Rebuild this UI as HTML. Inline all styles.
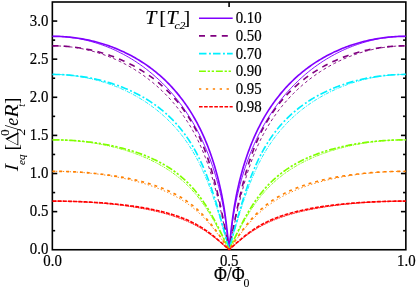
<!DOCTYPE html>
<html><head><meta charset="utf-8"><title>Ieq vs flux</title>
<style>
html,body{margin:0;padding:0;background:#fff;}
body{width:416px;height:287px;overflow:hidden;font-family:"Liberation Serif",serif;}
svg{display:block;will-change:transform}
text{font-family:"Liberation Serif",serif;fill:#000;stroke:#000}
svg{stroke-width:0.2px}
.it{font-style:italic}
.sm{stroke-width:0.08px}
</style></head><body>
<svg width="416" height="287" viewBox="0 0 416 287">
<rect x="0" y="0" width="416" height="287" fill="#fff"/>
<defs><clipPath id="pc"><rect x="52.35" y="2.0" width="353.5" height="248.35"/></clipPath></defs>

<g stroke="#000" stroke-width="1.6" fill="none" stroke-linecap="butt">
<rect x="52.35" y="2.0" width="353.5" height="247.75"/>
<line x1="52.35" y1="230.69" x2="55.15" y2="230.69"/>
<line x1="405.85" y1="230.69" x2="403.05" y2="230.69"/>
<line x1="52.35" y1="211.63" x2="57.25" y2="211.63"/>
<line x1="405.85" y1="211.63" x2="400.95000000000005" y2="211.63"/>
<line x1="52.35" y1="192.58" x2="55.15" y2="192.58"/>
<line x1="405.85" y1="192.58" x2="403.05" y2="192.58"/>
<line x1="52.35" y1="173.52" x2="57.25" y2="173.52"/>
<line x1="405.85" y1="173.52" x2="400.95000000000005" y2="173.52"/>
<line x1="52.35" y1="154.46" x2="55.15" y2="154.46"/>
<line x1="405.85" y1="154.46" x2="403.05" y2="154.46"/>
<line x1="52.35" y1="135.40" x2="57.25" y2="135.40"/>
<line x1="405.85" y1="135.40" x2="400.95000000000005" y2="135.40"/>
<line x1="52.35" y1="116.35" x2="55.15" y2="116.35"/>
<line x1="405.85" y1="116.35" x2="403.05" y2="116.35"/>
<line x1="52.35" y1="97.29" x2="57.25" y2="97.29"/>
<line x1="405.85" y1="97.29" x2="400.95000000000005" y2="97.29"/>
<line x1="52.35" y1="78.23" x2="55.15" y2="78.23"/>
<line x1="405.85" y1="78.23" x2="403.05" y2="78.23"/>
<line x1="52.35" y1="59.17" x2="57.25" y2="59.17"/>
<line x1="405.85" y1="59.17" x2="400.95000000000005" y2="59.17"/>
<line x1="52.35" y1="40.12" x2="55.15" y2="40.12"/>
<line x1="405.85" y1="40.12" x2="403.05" y2="40.12"/>
<line x1="52.35" y1="21.06" x2="57.25" y2="21.06"/>
<line x1="405.85" y1="21.06" x2="400.95000000000005" y2="21.06"/>
<line x1="229.10" y1="2.0" x2="229.10" y2="6.9"/>
<line x1="229.10" y1="249.75" x2="229.10" y2="244.85"/>
</g>
<g fill="none" stroke-linejoin="round" clip-path="url(#pc)">
<path d="M52.35 36.30 L54.10 36.31 L55.84 36.35 L57.59 36.40 L59.33 36.47 L61.08 36.56 L62.82 36.68 L64.56 36.81 L66.30 36.97 L68.04 37.15 L69.78 37.34 L71.52 37.56 L73.25 37.80 L74.99 38.06 L76.72 38.34 L78.45 38.64 L80.17 38.96 L81.90 39.30 L83.62 39.67 L85.33 40.05 L87.05 40.45 L88.76 40.88 L90.46 41.32 L92.17 41.79 L93.87 42.27 L95.56 42.78 L97.25 43.30 L98.94 43.85 L100.62 44.42 L102.30 45.00 L103.97 45.61 L105.64 46.24 L107.30 46.88 L108.96 47.55 L110.61 48.24 L112.25 48.94 L113.89 49.67 L115.53 50.41 L117.16 51.18 L118.78 51.97 L120.39 52.77 L122.00 53.60 L123.60 54.44 L125.20 55.30 L126.78 56.19 L128.36 57.09 L129.94 58.01 L131.50 58.95 L133.06 59.91 L134.61 60.89 L136.15 61.89 L137.68 62.91 L139.21 63.95 L140.72 65.01 L142.23 66.08 L143.73 67.17 L145.22 68.29 L146.70 69.42 L148.18 70.57 L149.64 71.74 L151.09 72.93 L152.53 74.14 L153.97 75.36 L155.39 76.61 L156.81 77.87 L158.21 79.15 L159.60 80.45 L160.98 81.77 L162.36 83.11 L163.72 84.47 L165.07 85.84 L166.41 87.24 L167.74 88.65 L169.05 90.08 L170.36 91.53 L171.65 92.99 L172.94 94.48 L174.21 95.98 L175.47 97.50 L176.71 99.04 L177.95 100.60 L179.17 102.18 L180.38 103.77 L181.58 105.39 L182.76 107.02 L183.93 108.67 L185.09 110.34 L186.24 112.03 L187.37 113.73 L188.49 115.45 L189.60 117.20 L190.69 118.96 L191.77 120.73 L192.84 122.53 L193.89 124.34 L194.93 126.17 L195.96 128.02 L196.97 129.89 L197.96 131.78 L198.95 133.68 L199.92 135.60 L200.87 137.54 L201.81 139.50 L202.73 141.47 L203.64 143.46 L204.54 145.47 L205.42 147.49 L206.29 149.54 L207.14 151.59 L207.97 153.67 L208.79 155.76 L209.60 157.86 L210.39 159.98 L211.16 162.12 L211.92 164.27 L212.66 166.43 L213.39 168.61 L214.10 170.80 L214.80 173.00 L215.48 175.22 L216.14 177.44 L216.79 179.68 L217.42 181.93 L218.04 184.19 L218.64 186.45 L219.22 188.73 L219.79 191.02 L220.34 193.32 L220.88 195.62 L221.39 197.94 L221.90 200.26 L222.38 202.60 L222.85 204.95 L223.30 207.30 L223.74 209.67 L224.16 212.04 L224.56 214.42 L224.94 216.79 L225.31 219.17 L225.66 221.53 L226.00 223.87 L226.31 226.18 L226.61 228.45 L226.90 230.66 L227.16 232.80 L227.41 234.86 L227.64 236.82 L227.86 238.66 L228.06 240.39 L228.24 241.98 L228.40 243.44 L228.55 244.76 L228.68 245.92 L228.79 246.93 L228.88 247.79 L228.96 248.50 L229.02 249.05 L229.07 249.44 L229.09 249.67 L229.10 249.75 L229.11 249.67 L229.13 249.44 L229.18 249.05 L229.24 248.50 L229.32 247.79 L229.41 246.93 L229.52 245.92 L229.65 244.76 L229.80 243.44 L229.96 241.98 L230.14 240.39 L230.34 238.66 L230.56 236.82 L230.79 234.86 L231.04 232.80 L231.30 230.66 L231.59 228.45 L231.89 226.18 L232.20 223.87 L232.54 221.53 L232.89 219.17 L233.26 216.79 L233.64 214.42 L234.04 212.04 L234.46 209.67 L234.90 207.30 L235.35 204.95 L235.82 202.60 L236.30 200.26 L236.81 197.94 L237.32 195.62 L237.86 193.32 L238.41 191.02 L238.98 188.73 L239.56 186.45 L240.16 184.19 L240.78 181.93 L241.41 179.68 L242.06 177.44 L242.72 175.22 L243.40 173.00 L244.10 170.80 L244.81 168.61 L245.54 166.43 L246.28 164.27 L247.04 162.12 L247.81 159.98 L248.60 157.86 L249.41 155.76 L250.23 153.67 L251.06 151.59 L251.91 149.54 L252.78 147.49 L253.66 145.47 L254.56 143.46 L255.47 141.47 L256.39 139.50 L257.33 137.54 L258.28 135.60 L259.25 133.68 L260.24 131.78 L261.23 129.89 L262.24 128.02 L263.27 126.17 L264.31 124.34 L265.36 122.53 L266.43 120.73 L267.51 118.96 L268.60 117.20 L269.71 115.45 L270.83 113.73 L271.96 112.03 L273.11 110.34 L274.27 108.67 L275.44 107.02 L276.62 105.39 L277.82 103.77 L279.03 102.18 L280.25 100.60 L281.49 99.04 L282.73 97.50 L283.99 95.98 L285.26 94.48 L286.55 92.99 L287.84 91.53 L289.15 90.08 L290.46 88.65 L291.79 87.24 L293.13 85.84 L294.48 84.47 L295.84 83.11 L297.22 81.77 L298.60 80.45 L299.99 79.15 L301.39 77.87 L302.81 76.61 L304.23 75.36 L305.67 74.14 L307.11 72.93 L308.56 71.74 L310.02 70.57 L311.50 69.42 L312.98 68.29 L314.47 67.17 L315.97 66.08 L317.48 65.01 L318.99 63.95 L320.52 62.91 L322.05 61.89 L323.59 60.89 L325.14 59.91 L326.70 58.95 L328.26 58.01 L329.84 57.09 L331.42 56.19 L333.00 55.30 L334.60 54.44 L336.20 53.60 L337.81 52.77 L339.42 51.97 L341.04 51.18 L342.67 50.41 L344.31 49.67 L345.95 48.94 L347.59 48.24 L349.24 47.55 L350.90 46.88 L352.56 46.24 L354.23 45.61 L355.90 45.00 L357.58 44.42 L359.26 43.85 L360.95 43.30 L362.64 42.78 L364.33 42.27 L366.03 41.79 L367.74 41.32 L369.44 40.88 L371.15 40.45 L372.87 40.05 L374.58 39.67 L376.30 39.30 L378.03 38.96 L379.75 38.64 L381.48 38.34 L383.21 38.06 L384.95 37.80 L386.68 37.56 L388.42 37.34 L390.16 37.15 L391.90 36.97 L393.64 36.81 L395.38 36.68 L397.12 36.56 L398.87 36.47 L400.61 36.40 L402.36 36.35 L404.10 36.31 L405.85 36.30" stroke="#8000ff" stroke-width="0.95"/>
<path d="M52.35 36.30 L54.10 36.31 L55.84 36.34 L57.59 36.38 L59.33 36.44 L61.08 36.52 L62.82 36.62 L64.56 36.73 L66.30 36.86 L68.04 37.01 L69.78 37.18 L71.52 37.36 L73.25 37.57 L74.99 37.78 L76.72 38.02 L78.45 38.28 L80.17 38.55 L81.90 38.84 L83.62 39.15 L85.33 39.47 L87.05 39.81 L88.76 40.17 L90.46 40.55 L92.17 40.95 L93.87 41.36 L95.56 41.79 L97.25 42.24 L98.94 42.71 L100.62 43.19 L102.30 43.70 L103.97 44.22 L105.64 44.75 L107.30 45.31 L108.96 45.89 L110.61 46.48 L112.25 47.09 L113.89 47.72 L115.53 48.36 L117.16 49.03 L118.78 49.71 L120.39 50.41 L122.00 51.13 L123.60 51.87 L125.20 52.63 L126.78 53.40 L128.36 54.20 L129.94 55.01 L131.50 55.84 L133.06 56.69 L134.61 57.56 L136.15 58.44 L137.68 59.35 L139.21 60.27 L140.72 61.22 L142.23 62.18 L143.73 63.16 L145.22 64.16 L146.70 65.18 L148.18 66.22 L149.64 67.28 L151.09 68.36 L152.53 69.45 L153.97 70.57 L155.39 71.71 L156.81 72.86 L158.21 74.04 L159.60 75.24 L160.98 76.45 L162.36 77.69 L163.72 78.95 L165.07 80.22 L166.41 81.52 L167.74 82.84 L169.05 84.18 L170.36 85.54 L171.65 86.92 L172.94 88.32 L174.21 89.74 L175.47 91.18 L176.71 92.64 L177.95 94.13 L179.17 95.64 L180.38 97.16 L181.58 98.71 L182.76 100.29 L183.93 101.88 L185.09 103.49 L186.24 105.13 L187.37 106.79 L188.49 108.47 L189.60 110.17 L190.69 111.90 L191.77 113.65 L192.84 115.42 L193.89 117.21 L194.93 119.02 L195.96 120.86 L196.97 122.72 L197.96 124.60 L198.95 126.51 L199.92 128.44 L200.87 130.39 L201.81 132.36 L202.73 134.35 L203.64 136.37 L204.54 138.41 L205.42 140.47 L206.29 142.56 L207.14 144.66 L207.97 146.79 L208.79 148.94 L209.60 151.11 L210.39 153.30 L211.16 155.51 L211.92 157.74 L212.66 159.98 L213.39 162.25 L214.10 164.54 L214.80 166.85 L215.48 169.17 L216.14 171.51 L216.79 173.86 L217.42 176.24 L218.04 178.62 L218.64 181.03 L219.22 183.44 L219.79 185.88 L220.34 188.33 L220.88 190.79 L221.39 193.27 L221.90 195.76 L222.38 198.27 L222.85 200.79 L223.30 203.34 L223.74 205.89 L224.16 208.46 L224.56 211.04 L224.94 213.62 L225.31 216.21 L225.66 218.78 L226.00 221.34 L226.31 223.87 L226.61 226.35 L226.90 228.77 L227.16 231.12 L227.41 233.37 L227.64 235.52 L227.86 237.55 L228.06 239.45 L228.24 241.20 L228.40 242.81 L228.55 244.25 L228.68 245.54 L228.79 246.65 L228.88 247.60 L228.96 248.37 L229.02 248.97 L229.07 249.41 L229.09 249.66 L229.10 249.75 L229.11 249.66 L229.13 249.41 L229.18 248.97 L229.24 248.37 L229.32 247.60 L229.41 246.65 L229.52 245.54 L229.65 244.25 L229.80 242.81 L229.96 241.20 L230.14 239.45 L230.34 237.55 L230.56 235.52 L230.79 233.37 L231.04 231.12 L231.30 228.77 L231.59 226.35 L231.89 223.87 L232.20 221.34 L232.54 218.78 L232.89 216.21 L233.26 213.62 L233.64 211.04 L234.04 208.46 L234.46 205.89 L234.90 203.34 L235.35 200.79 L235.82 198.27 L236.30 195.76 L236.81 193.27 L237.32 190.79 L237.86 188.33 L238.41 185.88 L238.98 183.44 L239.56 181.03 L240.16 178.62 L240.78 176.24 L241.41 173.86 L242.06 171.51 L242.72 169.17 L243.40 166.85 L244.10 164.54 L244.81 162.25 L245.54 159.98 L246.28 157.74 L247.04 155.51 L247.81 153.30 L248.60 151.11 L249.41 148.94 L250.23 146.79 L251.06 144.66 L251.91 142.56 L252.78 140.47 L253.66 138.41 L254.56 136.37 L255.47 134.35 L256.39 132.36 L257.33 130.39 L258.28 128.44 L259.25 126.51 L260.24 124.60 L261.23 122.72 L262.24 120.86 L263.27 119.02 L264.31 117.21 L265.36 115.42 L266.43 113.65 L267.51 111.90 L268.60 110.17 L269.71 108.47 L270.83 106.79 L271.96 105.13 L273.11 103.49 L274.27 101.88 L275.44 100.29 L276.62 98.71 L277.82 97.16 L279.03 95.64 L280.25 94.13 L281.49 92.64 L282.73 91.18 L283.99 89.74 L285.26 88.32 L286.55 86.92 L287.84 85.54 L289.15 84.18 L290.46 82.84 L291.79 81.52 L293.13 80.22 L294.48 78.95 L295.84 77.69 L297.22 76.45 L298.60 75.24 L299.99 74.04 L301.39 72.86 L302.81 71.71 L304.23 70.57 L305.67 69.45 L307.11 68.36 L308.56 67.28 L310.02 66.22 L311.50 65.18 L312.98 64.16 L314.47 63.16 L315.97 62.18 L317.48 61.22 L318.99 60.27 L320.52 59.35 L322.05 58.44 L323.59 57.56 L325.14 56.69 L326.70 55.84 L328.26 55.01 L329.84 54.20 L331.42 53.40 L333.00 52.63 L334.60 51.87 L336.20 51.13 L337.81 50.41 L339.42 49.71 L341.04 49.03 L342.67 48.36 L344.31 47.72 L345.95 47.09 L347.59 46.48 L349.24 45.89 L350.90 45.31 L352.56 44.75 L354.23 44.22 L355.90 43.70 L357.58 43.19 L359.26 42.71 L360.95 42.24 L362.64 41.79 L364.33 41.36 L366.03 40.95 L367.74 40.55 L369.44 40.17 L371.15 39.81 L372.87 39.47 L374.58 39.15 L376.30 38.84 L378.03 38.55 L379.75 38.28 L381.48 38.02 L383.21 37.78 L384.95 37.57 L386.68 37.36 L388.42 37.18 L390.16 37.01 L391.90 36.86 L393.64 36.73 L395.38 36.62 L397.12 36.52 L398.87 36.44 L400.61 36.38 L402.36 36.34 L404.10 36.31 L405.85 36.30" stroke="#8000ff" stroke-width="1.65"/>
<path d="M52.35 45.83 L54.10 45.84 L55.84 45.87 L57.59 45.92 L59.33 45.99 L61.08 46.08 L62.82 46.19 L64.56 46.32 L66.30 46.47 L68.04 46.64 L69.78 46.83 L71.52 47.04 L73.25 47.27 L74.99 47.52 L76.72 47.79 L78.45 48.08 L80.17 48.39 L81.90 48.72 L83.62 49.07 L85.33 49.44 L87.05 49.83 L88.76 50.24 L90.46 50.67 L92.17 51.11 L93.87 51.58 L95.56 52.07 L97.25 52.57 L98.94 53.10 L100.62 53.65 L102.30 54.21 L103.97 54.80 L105.64 55.40 L107.30 56.02 L108.96 56.67 L110.61 57.33 L112.25 58.01 L113.89 58.71 L115.53 59.43 L117.16 60.17 L118.78 60.93 L120.39 61.70 L122.00 62.50 L123.60 63.31 L125.20 64.15 L126.78 65.00 L128.36 65.87 L129.94 66.76 L131.50 67.67 L133.06 68.60 L134.61 69.55 L136.15 70.52 L137.68 71.50 L139.21 72.50 L140.72 73.53 L142.23 74.57 L143.73 75.63 L145.22 76.71 L146.70 77.81 L148.18 78.92 L149.64 80.06 L151.09 81.21 L152.53 82.38 L153.97 83.58 L155.39 84.79 L156.81 86.02 L158.21 87.27 L159.60 88.53 L160.98 89.82 L162.36 91.13 L163.72 92.45 L165.07 93.80 L166.41 95.17 L167.74 96.55 L169.05 97.96 L170.36 99.38 L171.65 100.83 L172.94 102.29 L174.21 103.78 L175.47 105.29 L176.71 106.82 L177.95 108.37 L179.17 109.94 L180.38 111.54 L181.58 113.15 L182.76 114.79 L183.93 116.46 L185.09 118.15 L186.24 119.86 L187.37 121.60 L188.49 123.36 L189.60 125.15 L190.69 126.96 L191.77 128.80 L192.84 130.67 L193.89 132.57 L194.93 134.49 L195.96 136.45 L196.97 138.43 L197.96 140.45 L198.95 142.49 L199.92 144.56 L200.87 146.67 L201.81 148.80 L202.73 150.97 L203.64 153.17 L204.54 155.39 L205.42 157.65 L206.29 159.94 L207.14 162.25 L207.97 164.59 L208.79 166.96 L209.60 169.35 L210.39 171.77 L211.16 174.20 L211.92 176.66 L212.66 179.13 L213.39 181.61 L214.10 184.10 L214.80 186.59 L215.48 189.09 L216.14 191.58 L216.79 194.07 L217.42 196.55 L218.04 199.01 L218.64 201.46 L219.22 203.88 L219.79 206.27 L220.34 208.63 L220.88 210.96 L221.39 213.24 L221.90 215.48 L222.38 217.67 L222.85 219.81 L223.30 221.89 L223.74 223.91 L224.16 225.86 L224.56 227.76 L224.94 229.58 L225.31 231.34 L225.66 233.02 L226.00 234.62 L226.31 236.16 L226.61 237.61 L226.90 238.98 L227.16 240.28 L227.41 241.49 L227.64 242.63 L227.86 243.68 L228.06 244.64 L228.24 245.53 L228.40 246.33 L228.55 247.05 L228.68 247.68 L228.79 248.23 L228.88 248.69 L228.96 249.07 L229.02 249.37 L229.07 249.58 L229.09 249.71 L229.10 249.75 L229.11 249.71 L229.13 249.58 L229.18 249.37 L229.24 249.07 L229.32 248.69 L229.41 248.23 L229.52 247.68 L229.65 247.05 L229.80 246.33 L229.96 245.53 L230.14 244.64 L230.34 243.68 L230.56 242.63 L230.79 241.49 L231.04 240.28 L231.30 238.98 L231.59 237.61 L231.89 236.16 L232.20 234.62 L232.54 233.02 L232.89 231.34 L233.26 229.58 L233.64 227.76 L234.04 225.86 L234.46 223.91 L234.90 221.89 L235.35 219.81 L235.82 217.67 L236.30 215.48 L236.81 213.24 L237.32 210.96 L237.86 208.63 L238.41 206.27 L238.98 203.88 L239.56 201.46 L240.16 199.01 L240.78 196.55 L241.41 194.07 L242.06 191.58 L242.72 189.09 L243.40 186.59 L244.10 184.10 L244.81 181.61 L245.54 179.13 L246.28 176.66 L247.04 174.20 L247.81 171.77 L248.60 169.35 L249.41 166.96 L250.23 164.59 L251.06 162.25 L251.91 159.94 L252.78 157.65 L253.66 155.39 L254.56 153.17 L255.47 150.97 L256.39 148.80 L257.33 146.67 L258.28 144.56 L259.25 142.49 L260.24 140.45 L261.23 138.43 L262.24 136.45 L263.27 134.49 L264.31 132.57 L265.36 130.67 L266.43 128.80 L267.51 126.96 L268.60 125.15 L269.71 123.36 L270.83 121.60 L271.96 119.86 L273.11 118.15 L274.27 116.46 L275.44 114.79 L276.62 113.15 L277.82 111.54 L279.03 109.94 L280.25 108.37 L281.49 106.82 L282.73 105.29 L283.99 103.78 L285.26 102.29 L286.55 100.83 L287.84 99.38 L289.15 97.96 L290.46 96.55 L291.79 95.17 L293.13 93.80 L294.48 92.45 L295.84 91.13 L297.22 89.82 L298.60 88.53 L299.99 87.27 L301.39 86.02 L302.81 84.79 L304.23 83.58 L305.67 82.38 L307.11 81.21 L308.56 80.06 L310.02 78.92 L311.50 77.81 L312.98 76.71 L314.47 75.63 L315.97 74.57 L317.48 73.53 L318.99 72.50 L320.52 71.50 L322.05 70.52 L323.59 69.55 L325.14 68.60 L326.70 67.67 L328.26 66.76 L329.84 65.87 L331.42 65.00 L333.00 64.15 L334.60 63.31 L336.20 62.50 L337.81 61.70 L339.42 60.93 L341.04 60.17 L342.67 59.43 L344.31 58.71 L345.95 58.01 L347.59 57.33 L349.24 56.67 L350.90 56.02 L352.56 55.40 L354.23 54.80 L355.90 54.21 L357.58 53.65 L359.26 53.10 L360.95 52.57 L362.64 52.07 L364.33 51.58 L366.03 51.11 L367.74 50.67 L369.44 50.24 L371.15 49.83 L372.87 49.44 L374.58 49.07 L376.30 48.72 L378.03 48.39 L379.75 48.08 L381.48 47.79 L383.21 47.52 L384.95 47.27 L386.68 47.04 L388.42 46.83 L390.16 46.64 L391.90 46.47 L393.64 46.32 L395.38 46.19 L397.12 46.08 L398.87 45.99 L400.61 45.92 L402.36 45.87 L404.10 45.84 L405.85 45.83" stroke="#800080" stroke-width="0.95" stroke-dasharray="3.00 2.70"/>
<path d="M52.35 45.83 L54.10 45.84 L55.84 45.87 L57.59 45.91 L59.33 45.97 L61.08 46.04 L62.82 46.14 L64.56 46.25 L66.30 46.37 L68.04 46.52 L69.78 46.68 L71.52 46.86 L73.25 47.05 L74.99 47.26 L76.72 47.49 L78.45 47.74 L80.17 48.00 L81.90 48.28 L83.62 48.58 L85.33 48.89 L87.05 49.22 L88.76 49.57 L90.46 49.93 L92.17 50.32 L93.87 50.71 L95.56 51.13 L97.25 51.57 L98.94 52.02 L100.62 52.48 L102.30 52.97 L103.97 53.47 L105.64 53.99 L107.30 54.53 L108.96 55.09 L110.61 55.66 L112.25 56.25 L113.89 56.86 L115.53 57.48 L117.16 58.13 L118.78 58.79 L120.39 59.47 L122.00 60.16 L123.60 60.88 L125.20 61.61 L126.78 62.36 L128.36 63.13 L129.94 63.92 L131.50 64.72 L133.06 65.55 L134.61 66.39 L136.15 67.25 L137.68 68.13 L139.21 69.02 L140.72 69.94 L142.23 70.88 L143.73 71.83 L145.22 72.80 L146.70 73.79 L148.18 74.81 L149.64 75.84 L151.09 76.89 L152.53 77.96 L153.97 79.05 L155.39 80.16 L156.81 81.29 L158.21 82.44 L159.60 83.61 L160.98 84.80 L162.36 86.02 L163.72 87.25 L165.07 88.51 L166.41 89.79 L167.74 91.09 L169.05 92.41 L170.36 93.76 L171.65 95.12 L172.94 96.51 L174.21 97.93 L175.47 99.37 L176.71 100.83 L177.95 102.32 L179.17 103.84 L180.38 105.38 L181.58 106.94 L182.76 108.54 L183.93 110.16 L185.09 111.81 L186.24 113.48 L187.37 115.19 L188.49 116.93 L189.60 118.70 L190.69 120.49 L191.77 122.33 L192.84 124.19 L193.89 126.09 L194.93 128.02 L195.96 129.99 L196.97 131.99 L197.96 134.03 L198.95 136.10 L199.92 138.21 L200.87 140.36 L201.81 142.55 L202.73 144.77 L203.64 147.03 L204.54 149.33 L205.42 151.66 L206.29 154.04 L207.14 156.44 L207.97 158.88 L208.79 161.35 L209.60 163.86 L210.39 166.39 L211.16 168.95 L211.92 171.53 L212.66 174.13 L213.39 176.75 L214.10 179.39 L214.80 182.03 L215.48 184.68 L216.14 187.33 L216.79 189.98 L217.42 192.62 L218.04 195.25 L218.64 197.86 L219.22 200.44 L219.79 203.00 L220.34 205.53 L220.88 208.02 L221.39 210.47 L221.90 212.87 L222.38 215.22 L222.85 217.51 L223.30 219.75 L223.74 221.92 L224.16 224.03 L224.56 226.06 L224.94 228.03 L225.31 229.91 L225.66 231.72 L226.00 233.45 L226.31 235.10 L226.61 236.67 L226.90 238.15 L227.16 239.55 L227.41 240.85 L227.64 242.07 L227.86 243.21 L228.06 244.25 L228.24 245.20 L228.40 246.06 L228.55 246.84 L228.68 247.52 L228.79 248.11 L228.88 248.61 L228.96 249.02 L229.02 249.34 L229.07 249.57 L229.09 249.70 L229.10 249.75 L229.11 249.70 L229.13 249.57 L229.18 249.34 L229.24 249.02 L229.32 248.61 L229.41 248.11 L229.52 247.52 L229.65 246.84 L229.80 246.06 L229.96 245.20 L230.14 244.25 L230.34 243.21 L230.56 242.07 L230.79 240.85 L231.04 239.55 L231.30 238.15 L231.59 236.67 L231.89 235.10 L232.20 233.45 L232.54 231.72 L232.89 229.91 L233.26 228.03 L233.64 226.06 L234.04 224.03 L234.46 221.92 L234.90 219.75 L235.35 217.51 L235.82 215.22 L236.30 212.87 L236.81 210.47 L237.32 208.02 L237.86 205.53 L238.41 203.00 L238.98 200.44 L239.56 197.86 L240.16 195.25 L240.78 192.62 L241.41 189.98 L242.06 187.33 L242.72 184.68 L243.40 182.03 L244.10 179.39 L244.81 176.75 L245.54 174.13 L246.28 171.53 L247.04 168.95 L247.81 166.39 L248.60 163.86 L249.41 161.35 L250.23 158.88 L251.06 156.44 L251.91 154.04 L252.78 151.66 L253.66 149.33 L254.56 147.03 L255.47 144.77 L256.39 142.55 L257.33 140.36 L258.28 138.21 L259.25 136.10 L260.24 134.03 L261.23 131.99 L262.24 129.99 L263.27 128.02 L264.31 126.09 L265.36 124.19 L266.43 122.33 L267.51 120.49 L268.60 118.70 L269.71 116.93 L270.83 115.19 L271.96 113.48 L273.11 111.81 L274.27 110.16 L275.44 108.54 L276.62 106.94 L277.82 105.38 L279.03 103.84 L280.25 102.32 L281.49 100.83 L282.73 99.37 L283.99 97.93 L285.26 96.51 L286.55 95.12 L287.84 93.76 L289.15 92.41 L290.46 91.09 L291.79 89.79 L293.13 88.51 L294.48 87.25 L295.84 86.02 L297.22 84.80 L298.60 83.61 L299.99 82.44 L301.39 81.29 L302.81 80.16 L304.23 79.05 L305.67 77.96 L307.11 76.89 L308.56 75.84 L310.02 74.81 L311.50 73.79 L312.98 72.80 L314.47 71.83 L315.97 70.88 L317.48 69.94 L318.99 69.02 L320.52 68.13 L322.05 67.25 L323.59 66.39 L325.14 65.55 L326.70 64.72 L328.26 63.92 L329.84 63.13 L331.42 62.36 L333.00 61.61 L334.60 60.88 L336.20 60.16 L337.81 59.47 L339.42 58.79 L341.04 58.13 L342.67 57.48 L344.31 56.86 L345.95 56.25 L347.59 55.66 L349.24 55.09 L350.90 54.53 L352.56 53.99 L354.23 53.47 L355.90 52.97 L357.58 52.48 L359.26 52.02 L360.95 51.57 L362.64 51.13 L364.33 50.71 L366.03 50.32 L367.74 49.93 L369.44 49.57 L371.15 49.22 L372.87 48.89 L374.58 48.58 L376.30 48.28 L378.03 48.00 L379.75 47.74 L381.48 47.49 L383.21 47.26 L384.95 47.05 L386.68 46.86 L388.42 46.68 L390.16 46.52 L391.90 46.37 L393.64 46.25 L395.38 46.14 L397.12 46.04 L398.87 45.97 L400.61 45.91 L402.36 45.87 L404.10 45.84 L405.85 45.83" stroke="#800080" stroke-width="1.65" stroke-dasharray="6.00 5.40"/>
<path d="M52.35 74.42 L54.10 74.43 L55.84 74.45 L57.59 74.50 L59.33 74.56 L61.08 74.64 L62.82 74.73 L64.56 74.85 L66.30 74.98 L68.04 75.13 L69.78 75.30 L71.52 75.48 L73.25 75.68 L74.99 75.90 L76.72 76.14 L78.45 76.39 L80.17 76.66 L81.90 76.95 L83.62 77.26 L85.33 77.58 L87.05 77.92 L88.76 78.28 L90.46 78.65 L92.17 79.05 L93.87 79.46 L95.56 79.89 L97.25 80.33 L98.94 80.79 L100.62 81.27 L102.30 81.77 L103.97 82.28 L105.64 82.81 L107.30 83.36 L108.96 83.93 L110.61 84.51 L112.25 85.11 L113.89 85.73 L115.53 86.36 L117.16 87.01 L118.78 87.68 L120.39 88.37 L122.00 89.07 L123.60 89.79 L125.20 90.53 L126.78 91.28 L128.36 92.05 L129.94 92.84 L131.50 93.65 L133.06 94.47 L134.61 95.31 L136.15 96.17 L137.68 97.05 L139.21 97.94 L140.72 98.85 L142.23 99.78 L143.73 100.72 L145.22 101.69 L146.70 102.67 L148.18 103.67 L149.64 104.69 L151.09 105.72 L152.53 106.78 L153.97 107.85 L155.39 108.94 L156.81 110.05 L158.21 111.18 L159.60 112.33 L160.98 113.50 L162.36 114.68 L163.72 115.89 L165.07 117.12 L166.41 118.36 L167.74 119.63 L169.05 120.92 L170.36 122.23 L171.65 123.56 L172.94 124.91 L174.21 126.29 L175.47 127.69 L176.71 129.10 L177.95 130.55 L179.17 132.01 L180.38 133.50 L181.58 135.02 L182.76 136.55 L183.93 138.11 L185.09 139.70 L186.24 141.31 L187.37 142.95 L188.49 144.61 L189.60 146.30 L190.69 148.01 L191.77 149.75 L192.84 151.52 L193.89 153.31 L194.93 155.12 L195.96 156.96 L196.97 158.83 L197.96 160.72 L198.95 162.63 L199.92 164.57 L200.87 166.52 L201.81 168.50 L202.73 170.50 L203.64 172.52 L204.54 174.55 L205.42 176.60 L206.29 178.67 L207.14 180.74 L207.97 182.83 L208.79 184.92 L209.60 187.02 L210.39 189.12 L211.16 191.22 L211.92 193.33 L212.66 195.42 L213.39 197.51 L214.10 199.59 L214.80 201.66 L215.48 203.71 L216.14 205.74 L216.79 207.75 L217.42 209.73 L218.04 211.69 L218.64 213.62 L219.22 215.52 L219.79 217.38 L220.34 219.21 L220.88 220.99 L221.39 222.74 L221.90 224.44 L222.38 226.09 L222.85 227.70 L223.30 229.26 L223.74 230.77 L224.16 232.23 L224.56 233.63 L224.94 234.98 L225.31 236.28 L225.66 237.52 L226.00 238.70 L226.31 239.82 L226.61 240.89 L226.90 241.89 L227.16 242.84 L227.41 243.73 L227.64 244.56 L227.86 245.32 L228.06 246.03 L228.24 246.67 L228.40 247.26 L228.55 247.78 L228.68 248.24 L228.79 248.64 L228.88 248.98 L228.96 249.26 L229.02 249.47 L229.07 249.63 L229.09 249.72 L229.10 249.75 L229.11 249.72 L229.13 249.63 L229.18 249.47 L229.24 249.26 L229.32 248.98 L229.41 248.64 L229.52 248.24 L229.65 247.78 L229.80 247.26 L229.96 246.67 L230.14 246.03 L230.34 245.32 L230.56 244.56 L230.79 243.73 L231.04 242.84 L231.30 241.89 L231.59 240.89 L231.89 239.82 L232.20 238.70 L232.54 237.52 L232.89 236.28 L233.26 234.98 L233.64 233.63 L234.04 232.23 L234.46 230.77 L234.90 229.26 L235.35 227.70 L235.82 226.09 L236.30 224.44 L236.81 222.74 L237.32 220.99 L237.86 219.21 L238.41 217.38 L238.98 215.52 L239.56 213.62 L240.16 211.69 L240.78 209.73 L241.41 207.75 L242.06 205.74 L242.72 203.71 L243.40 201.66 L244.10 199.59 L244.81 197.51 L245.54 195.42 L246.28 193.33 L247.04 191.22 L247.81 189.12 L248.60 187.02 L249.41 184.92 L250.23 182.83 L251.06 180.74 L251.91 178.67 L252.78 176.60 L253.66 174.55 L254.56 172.52 L255.47 170.50 L256.39 168.50 L257.33 166.52 L258.28 164.57 L259.25 162.63 L260.24 160.72 L261.23 158.83 L262.24 156.96 L263.27 155.12 L264.31 153.31 L265.36 151.52 L266.43 149.75 L267.51 148.01 L268.60 146.30 L269.71 144.61 L270.83 142.95 L271.96 141.31 L273.11 139.70 L274.27 138.11 L275.44 136.55 L276.62 135.02 L277.82 133.50 L279.03 132.01 L280.25 130.55 L281.49 129.10 L282.73 127.69 L283.99 126.29 L285.26 124.91 L286.55 123.56 L287.84 122.23 L289.15 120.92 L290.46 119.63 L291.79 118.36 L293.13 117.12 L294.48 115.89 L295.84 114.68 L297.22 113.50 L298.60 112.33 L299.99 111.18 L301.39 110.05 L302.81 108.94 L304.23 107.85 L305.67 106.78 L307.11 105.72 L308.56 104.69 L310.02 103.67 L311.50 102.67 L312.98 101.69 L314.47 100.72 L315.97 99.78 L317.48 98.85 L318.99 97.94 L320.52 97.05 L322.05 96.17 L323.59 95.31 L325.14 94.47 L326.70 93.65 L328.26 92.84 L329.84 92.05 L331.42 91.28 L333.00 90.53 L334.60 89.79 L336.20 89.07 L337.81 88.37 L339.42 87.68 L341.04 87.01 L342.67 86.36 L344.31 85.73 L345.95 85.11 L347.59 84.51 L349.24 83.93 L350.90 83.36 L352.56 82.81 L354.23 82.28 L355.90 81.77 L357.58 81.27 L359.26 80.79 L360.95 80.33 L362.64 79.89 L364.33 79.46 L366.03 79.05 L367.74 78.65 L369.44 78.28 L371.15 77.92 L372.87 77.58 L374.58 77.26 L376.30 76.95 L378.03 76.66 L379.75 76.39 L381.48 76.14 L383.21 75.90 L384.95 75.68 L386.68 75.48 L388.42 75.30 L390.16 75.13 L391.90 74.98 L393.64 74.85 L395.38 74.73 L397.12 74.64 L398.87 74.56 L400.61 74.50 L402.36 74.45 L404.10 74.43 L405.85 74.42" stroke="#00f0ff" stroke-width="0.95" stroke-dasharray="3.75 1.25 0.95 1.05"/>
<path d="M52.35 74.42 L54.10 74.43 L55.84 74.45 L57.59 74.49 L59.33 74.54 L61.08 74.61 L62.82 74.69 L64.56 74.78 L66.30 74.90 L68.04 75.02 L69.78 75.16 L71.52 75.32 L73.25 75.49 L74.99 75.68 L76.72 75.88 L78.45 76.10 L80.17 76.33 L81.90 76.57 L83.62 76.84 L85.33 77.11 L87.05 77.40 L88.76 77.71 L90.46 78.03 L92.17 78.37 L93.87 78.72 L95.56 79.09 L97.25 79.47 L98.94 79.87 L100.62 80.29 L102.30 80.72 L103.97 81.16 L105.64 81.62 L107.30 82.10 L108.96 82.59 L110.61 83.10 L112.25 83.62 L113.89 84.16 L115.53 84.72 L117.16 85.29 L118.78 85.87 L120.39 86.48 L122.00 87.10 L123.60 87.73 L125.20 88.39 L126.78 89.05 L128.36 89.74 L129.94 90.44 L131.50 91.16 L133.06 91.90 L134.61 92.65 L136.15 93.42 L137.68 94.21 L139.21 95.01 L140.72 95.84 L142.23 96.68 L143.73 97.54 L145.22 98.41 L146.70 99.31 L148.18 100.22 L149.64 101.16 L151.09 102.11 L152.53 103.08 L153.97 104.07 L155.39 105.08 L156.81 106.12 L158.21 107.17 L159.60 108.24 L160.98 109.33 L162.36 110.45 L163.72 111.59 L165.07 112.75 L166.41 113.93 L167.74 115.13 L169.05 116.36 L170.36 117.61 L171.65 118.89 L172.94 120.19 L174.21 121.51 L175.47 122.86 L176.71 124.24 L177.95 125.64 L179.17 127.07 L180.38 128.53 L181.58 130.01 L182.76 131.52 L183.93 133.07 L185.09 134.64 L186.24 136.24 L187.37 137.87 L188.49 139.53 L189.60 141.22 L190.69 142.94 L191.77 144.69 L192.84 146.47 L193.89 148.28 L194.93 150.12 L195.96 151.99 L196.97 153.90 L197.96 155.83 L198.95 157.79 L199.92 159.77 L200.87 161.79 L201.81 163.83 L202.73 165.90 L203.64 167.98 L204.54 170.10 L205.42 172.23 L206.29 174.38 L207.14 176.54 L207.97 178.72 L208.79 180.91 L209.60 183.11 L210.39 185.32 L211.16 187.53 L211.92 189.74 L212.66 191.95 L213.39 194.15 L214.10 196.35 L214.80 198.53 L215.48 200.70 L216.14 202.85 L216.79 204.98 L217.42 207.09 L218.04 209.17 L218.64 211.22 L219.22 213.23 L219.79 215.22 L220.34 217.16 L220.88 219.06 L221.39 220.92 L221.90 222.73 L222.38 224.49 L222.85 226.21 L223.30 227.87 L223.74 229.48 L224.16 231.04 L224.56 232.54 L224.94 233.98 L225.31 235.36 L225.66 236.68 L226.00 237.94 L226.31 239.14 L226.61 240.28 L226.90 241.36 L227.16 242.37 L227.41 243.32 L227.64 244.20 L227.86 245.02 L228.06 245.77 L228.24 246.46 L228.40 247.09 L228.55 247.65 L228.68 248.14 L228.79 248.57 L228.88 248.93 L228.96 249.22 L229.02 249.45 L229.07 249.62 L229.09 249.72 L229.10 249.75 L229.11 249.72 L229.13 249.62 L229.18 249.45 L229.24 249.22 L229.32 248.93 L229.41 248.57 L229.52 248.14 L229.65 247.65 L229.80 247.09 L229.96 246.46 L230.14 245.77 L230.34 245.02 L230.56 244.20 L230.79 243.32 L231.04 242.37 L231.30 241.36 L231.59 240.28 L231.89 239.14 L232.20 237.94 L232.54 236.68 L232.89 235.36 L233.26 233.98 L233.64 232.54 L234.04 231.04 L234.46 229.48 L234.90 227.87 L235.35 226.21 L235.82 224.49 L236.30 222.73 L236.81 220.92 L237.32 219.06 L237.86 217.16 L238.41 215.22 L238.98 213.23 L239.56 211.22 L240.16 209.17 L240.78 207.09 L241.41 204.98 L242.06 202.85 L242.72 200.70 L243.40 198.53 L244.10 196.35 L244.81 194.15 L245.54 191.95 L246.28 189.74 L247.04 187.53 L247.81 185.32 L248.60 183.11 L249.41 180.91 L250.23 178.72 L251.06 176.54 L251.91 174.38 L252.78 172.23 L253.66 170.10 L254.56 167.98 L255.47 165.90 L256.39 163.83 L257.33 161.79 L258.28 159.77 L259.25 157.79 L260.24 155.83 L261.23 153.90 L262.24 151.99 L263.27 150.12 L264.31 148.28 L265.36 146.47 L266.43 144.69 L267.51 142.94 L268.60 141.22 L269.71 139.53 L270.83 137.87 L271.96 136.24 L273.11 134.64 L274.27 133.07 L275.44 131.52 L276.62 130.01 L277.82 128.53 L279.03 127.07 L280.25 125.64 L281.49 124.24 L282.73 122.86 L283.99 121.51 L285.26 120.19 L286.55 118.89 L287.84 117.61 L289.15 116.36 L290.46 115.13 L291.79 113.93 L293.13 112.75 L294.48 111.59 L295.84 110.45 L297.22 109.33 L298.60 108.24 L299.99 107.17 L301.39 106.12 L302.81 105.08 L304.23 104.07 L305.67 103.08 L307.11 102.11 L308.56 101.16 L310.02 100.22 L311.50 99.31 L312.98 98.41 L314.47 97.54 L315.97 96.68 L317.48 95.84 L318.99 95.01 L320.52 94.21 L322.05 93.42 L323.59 92.65 L325.14 91.90 L326.70 91.16 L328.26 90.44 L329.84 89.74 L331.42 89.05 L333.00 88.39 L334.60 87.73 L336.20 87.10 L337.81 86.48 L339.42 85.87 L341.04 85.29 L342.67 84.72 L344.31 84.16 L345.95 83.62 L347.59 83.10 L349.24 82.59 L350.90 82.10 L352.56 81.62 L354.23 81.16 L355.90 80.72 L357.58 80.29 L359.26 79.87 L360.95 79.47 L362.64 79.09 L364.33 78.72 L366.03 78.37 L367.74 78.03 L369.44 77.71 L371.15 77.40 L372.87 77.11 L374.58 76.84 L376.30 76.57 L378.03 76.33 L379.75 76.10 L381.48 75.88 L383.21 75.68 L384.95 75.49 L386.68 75.32 L388.42 75.16 L390.16 75.02 L391.90 74.90 L393.64 74.78 L395.38 74.69 L397.12 74.61 L398.87 74.54 L400.61 74.49 L402.36 74.45 L404.10 74.43 L405.85 74.42" stroke="#00f0ff" stroke-width="1.65" stroke-dasharray="7.50 2.50 1.90 2.10"/>
<path d="M52.35 139.83 L54.10 139.83 L55.84 139.85 L57.59 139.88 L59.33 139.92 L61.08 139.97 L62.82 140.03 L64.56 140.10 L66.30 140.19 L68.04 140.28 L69.78 140.39 L71.52 140.51 L73.25 140.64 L74.99 140.78 L76.72 140.93 L78.45 141.09 L80.17 141.27 L81.90 141.45 L83.62 141.65 L85.33 141.86 L87.05 142.08 L88.76 142.31 L90.46 142.55 L92.17 142.81 L93.87 143.07 L95.56 143.35 L97.25 143.63 L98.94 143.93 L100.62 144.24 L102.30 144.56 L103.97 144.90 L105.64 145.24 L107.30 145.60 L108.96 145.96 L110.61 146.34 L112.25 146.73 L113.89 147.13 L115.53 147.54 L117.16 147.96 L118.78 148.40 L120.39 148.84 L122.00 149.30 L123.60 149.77 L125.20 150.25 L126.78 150.74 L128.36 151.25 L129.94 151.76 L131.50 152.29 L133.06 152.83 L134.61 153.38 L136.15 153.94 L137.68 154.52 L139.21 155.10 L140.72 155.70 L142.23 156.32 L143.73 156.94 L145.22 157.57 L146.70 158.22 L148.18 158.88 L149.64 159.56 L151.09 160.24 L152.53 160.94 L153.97 161.66 L155.39 162.38 L156.81 163.12 L158.21 163.87 L159.60 164.64 L160.98 165.42 L162.36 166.21 L163.72 167.02 L165.07 167.84 L166.41 168.68 L167.74 169.53 L169.05 170.40 L170.36 171.28 L171.65 172.17 L172.94 173.08 L174.21 174.01 L175.47 174.95 L176.71 175.91 L177.95 176.88 L179.17 177.87 L180.38 178.87 L181.58 179.89 L182.76 180.92 L183.93 181.97 L185.09 183.04 L186.24 184.12 L187.37 185.22 L188.49 186.33 L189.60 187.46 L190.69 188.60 L191.77 189.75 L192.84 190.92 L193.89 192.11 L194.93 193.30 L195.96 194.51 L196.97 195.73 L197.96 196.97 L198.95 198.21 L199.92 199.46 L200.87 200.72 L201.81 201.99 L202.73 203.27 L203.64 204.55 L204.54 205.83 L205.42 207.12 L206.29 208.41 L207.14 209.70 L207.97 211.00 L208.79 212.29 L209.60 213.57 L210.39 214.85 L211.16 216.13 L211.92 217.40 L212.66 218.65 L213.39 219.90 L214.10 221.14 L214.80 222.36 L215.48 223.57 L216.14 224.76 L216.79 225.94 L217.42 227.09 L218.04 228.23 L218.64 229.34 L219.22 230.44 L219.79 231.51 L220.34 232.55 L220.88 233.57 L221.39 234.57 L221.90 235.53 L222.38 236.47 L222.85 237.38 L223.30 238.26 L223.74 239.11 L224.16 239.94 L224.56 240.73 L224.94 241.48 L225.31 242.21 L225.66 242.91 L226.00 243.57 L226.31 244.20 L226.61 244.80 L226.90 245.36 L227.16 245.89 L227.41 246.38 L227.64 246.85 L227.86 247.28 L228.06 247.67 L228.24 248.03 L228.40 248.36 L228.55 248.65 L228.68 248.91 L228.79 249.13 L228.88 249.32 L228.96 249.47 L229.02 249.60 L229.07 249.68 L229.09 249.73 L229.10 249.75 L229.11 249.73 L229.13 249.68 L229.18 249.60 L229.24 249.47 L229.32 249.32 L229.41 249.13 L229.52 248.91 L229.65 248.65 L229.80 248.36 L229.96 248.03 L230.14 247.67 L230.34 247.28 L230.56 246.85 L230.79 246.38 L231.04 245.89 L231.30 245.36 L231.59 244.80 L231.89 244.20 L232.20 243.57 L232.54 242.91 L232.89 242.21 L233.26 241.48 L233.64 240.73 L234.04 239.94 L234.46 239.11 L234.90 238.26 L235.35 237.38 L235.82 236.47 L236.30 235.53 L236.81 234.57 L237.32 233.57 L237.86 232.55 L238.41 231.51 L238.98 230.44 L239.56 229.34 L240.16 228.23 L240.78 227.09 L241.41 225.94 L242.06 224.76 L242.72 223.57 L243.40 222.36 L244.10 221.14 L244.81 219.90 L245.54 218.65 L246.28 217.40 L247.04 216.13 L247.81 214.85 L248.60 213.57 L249.41 212.29 L250.23 211.00 L251.06 209.70 L251.91 208.41 L252.78 207.12 L253.66 205.83 L254.56 204.55 L255.47 203.27 L256.39 201.99 L257.33 200.72 L258.28 199.46 L259.25 198.21 L260.24 196.97 L261.23 195.73 L262.24 194.51 L263.27 193.30 L264.31 192.11 L265.36 190.92 L266.43 189.75 L267.51 188.60 L268.60 187.46 L269.71 186.33 L270.83 185.22 L271.96 184.12 L273.11 183.04 L274.27 181.97 L275.44 180.92 L276.62 179.89 L277.82 178.87 L279.03 177.87 L280.25 176.88 L281.49 175.91 L282.73 174.95 L283.99 174.01 L285.26 173.08 L286.55 172.17 L287.84 171.28 L289.15 170.40 L290.46 169.53 L291.79 168.68 L293.13 167.84 L294.48 167.02 L295.84 166.21 L297.22 165.42 L298.60 164.64 L299.99 163.87 L301.39 163.12 L302.81 162.38 L304.23 161.66 L305.67 160.94 L307.11 160.24 L308.56 159.56 L310.02 158.88 L311.50 158.22 L312.98 157.57 L314.47 156.94 L315.97 156.32 L317.48 155.70 L318.99 155.10 L320.52 154.52 L322.05 153.94 L323.59 153.38 L325.14 152.83 L326.70 152.29 L328.26 151.76 L329.84 151.25 L331.42 150.74 L333.00 150.25 L334.60 149.77 L336.20 149.30 L337.81 148.84 L339.42 148.40 L341.04 147.96 L342.67 147.54 L344.31 147.13 L345.95 146.73 L347.59 146.34 L349.24 145.96 L350.90 145.60 L352.56 145.24 L354.23 144.90 L355.90 144.56 L357.58 144.24 L359.26 143.93 L360.95 143.63 L362.64 143.35 L364.33 143.07 L366.03 142.81 L367.74 142.55 L369.44 142.31 L371.15 142.08 L372.87 141.86 L374.58 141.65 L376.30 141.45 L378.03 141.27 L379.75 141.09 L381.48 140.93 L383.21 140.78 L384.95 140.64 L386.68 140.51 L388.42 140.39 L390.16 140.28 L391.90 140.19 L393.64 140.10 L395.38 140.03 L397.12 139.97 L398.87 139.92 L400.61 139.88 L402.36 139.85 L404.10 139.83 L405.85 139.83" stroke="#80ff00" stroke-width="0.95" stroke-dasharray="3.45 0.90 1.15 0.85 1.15 0.95"/>
<path d="M52.35 139.83 L54.10 139.83 L55.84 139.84 L57.59 139.87 L59.33 139.90 L61.08 139.95 L62.82 140.00 L64.56 140.06 L66.30 140.13 L68.04 140.22 L69.78 140.31 L71.52 140.41 L73.25 140.52 L74.99 140.64 L76.72 140.77 L78.45 140.91 L80.17 141.06 L81.90 141.22 L83.62 141.39 L85.33 141.57 L87.05 141.76 L88.76 141.96 L90.46 142.17 L92.17 142.39 L93.87 142.62 L95.56 142.86 L97.25 143.11 L98.94 143.37 L100.62 143.64 L102.30 143.92 L103.97 144.21 L105.64 144.51 L107.30 144.82 L108.96 145.14 L110.61 145.48 L112.25 145.82 L113.89 146.17 L115.53 146.53 L117.16 146.91 L118.78 147.29 L120.39 147.69 L122.00 148.10 L123.60 148.52 L125.20 148.95 L126.78 149.39 L128.36 149.84 L129.94 150.30 L131.50 150.78 L133.06 151.27 L134.61 151.76 L136.15 152.28 L137.68 152.80 L139.21 153.33 L140.72 153.88 L142.23 154.44 L143.73 155.01 L145.22 155.60 L146.70 156.20 L148.18 156.81 L149.64 157.44 L151.09 158.07 L152.53 158.73 L153.97 159.39 L155.39 160.07 L156.81 160.77 L158.21 161.48 L159.60 162.20 L160.98 162.94 L162.36 163.70 L163.72 164.47 L165.07 165.25 L166.41 166.06 L167.74 166.87 L169.05 167.71 L170.36 168.56 L171.65 169.43 L172.94 170.32 L174.21 171.22 L175.47 172.14 L176.71 173.08 L177.95 174.03 L179.17 175.01 L180.38 176.00 L181.58 177.01 L182.76 178.04 L183.93 179.08 L185.09 180.15 L186.24 181.23 L187.37 182.33 L188.49 183.45 L189.60 184.59 L190.69 185.74 L191.77 186.92 L192.84 188.10 L193.89 189.31 L194.93 190.53 L195.96 191.77 L196.97 193.02 L197.96 194.28 L198.95 195.56 L199.92 196.85 L200.87 198.15 L201.81 199.46 L202.73 200.78 L203.64 202.11 L204.54 203.45 L205.42 204.79 L206.29 206.13 L207.14 207.48 L207.97 208.83 L208.79 210.18 L209.60 211.52 L210.39 212.86 L211.16 214.20 L211.92 215.53 L212.66 216.85 L213.39 218.17 L214.10 219.47 L214.80 220.75 L215.48 222.03 L216.14 223.28 L216.79 224.52 L217.42 225.74 L218.04 226.94 L218.64 228.12 L219.22 229.28 L219.79 230.41 L220.34 231.52 L220.88 232.60 L221.39 233.65 L221.90 234.67 L222.38 235.67 L222.85 236.63 L223.30 237.56 L223.74 238.47 L224.16 239.34 L224.56 240.18 L224.94 240.98 L225.31 241.75 L225.66 242.49 L226.00 243.19 L226.31 243.86 L226.61 244.49 L226.90 245.09 L227.16 245.65 L227.41 246.18 L227.64 246.67 L227.86 247.12 L228.06 247.54 L228.24 247.93 L228.40 248.27 L228.55 248.58 L228.68 248.86 L228.79 249.09 L228.88 249.29 L228.96 249.46 L229.02 249.59 L229.07 249.68 L229.09 249.73 L229.10 249.75 L229.11 249.73 L229.13 249.68 L229.18 249.59 L229.24 249.46 L229.32 249.29 L229.41 249.09 L229.52 248.86 L229.65 248.58 L229.80 248.27 L229.96 247.93 L230.14 247.54 L230.34 247.12 L230.56 246.67 L230.79 246.18 L231.04 245.65 L231.30 245.09 L231.59 244.49 L231.89 243.86 L232.20 243.19 L232.54 242.49 L232.89 241.75 L233.26 240.98 L233.64 240.18 L234.04 239.34 L234.46 238.47 L234.90 237.56 L235.35 236.63 L235.82 235.67 L236.30 234.67 L236.81 233.65 L237.32 232.60 L237.86 231.52 L238.41 230.41 L238.98 229.28 L239.56 228.12 L240.16 226.94 L240.78 225.74 L241.41 224.52 L242.06 223.28 L242.72 222.03 L243.40 220.75 L244.10 219.47 L244.81 218.17 L245.54 216.85 L246.28 215.53 L247.04 214.20 L247.81 212.86 L248.60 211.52 L249.41 210.18 L250.23 208.83 L251.06 207.48 L251.91 206.13 L252.78 204.79 L253.66 203.45 L254.56 202.11 L255.47 200.78 L256.39 199.46 L257.33 198.15 L258.28 196.85 L259.25 195.56 L260.24 194.28 L261.23 193.02 L262.24 191.77 L263.27 190.53 L264.31 189.31 L265.36 188.10 L266.43 186.92 L267.51 185.74 L268.60 184.59 L269.71 183.45 L270.83 182.33 L271.96 181.23 L273.11 180.15 L274.27 179.08 L275.44 178.04 L276.62 177.01 L277.82 176.00 L279.03 175.01 L280.25 174.03 L281.49 173.08 L282.73 172.14 L283.99 171.22 L285.26 170.32 L286.55 169.43 L287.84 168.56 L289.15 167.71 L290.46 166.87 L291.79 166.06 L293.13 165.25 L294.48 164.47 L295.84 163.70 L297.22 162.94 L298.60 162.20 L299.99 161.48 L301.39 160.77 L302.81 160.07 L304.23 159.39 L305.67 158.73 L307.11 158.07 L308.56 157.44 L310.02 156.81 L311.50 156.20 L312.98 155.60 L314.47 155.01 L315.97 154.44 L317.48 153.88 L318.99 153.33 L320.52 152.80 L322.05 152.28 L323.59 151.76 L325.14 151.27 L326.70 150.78 L328.26 150.30 L329.84 149.84 L331.42 149.39 L333.00 148.95 L334.60 148.52 L336.20 148.10 L337.81 147.69 L339.42 147.29 L341.04 146.91 L342.67 146.53 L344.31 146.17 L345.95 145.82 L347.59 145.48 L349.24 145.14 L350.90 144.82 L352.56 144.51 L354.23 144.21 L355.90 143.92 L357.58 143.64 L359.26 143.37 L360.95 143.11 L362.64 142.86 L364.33 142.62 L366.03 142.39 L367.74 142.17 L369.44 141.96 L371.15 141.76 L372.87 141.57 L374.58 141.39 L376.30 141.22 L378.03 141.06 L379.75 140.91 L381.48 140.77 L383.21 140.64 L384.95 140.52 L386.68 140.41 L388.42 140.31 L390.16 140.22 L391.90 140.13 L393.64 140.06 L395.38 140.00 L397.12 139.95 L398.87 139.90 L400.61 139.87 L402.36 139.84 L404.10 139.83 L405.85 139.83" stroke="#80ff00" stroke-width="1.65" stroke-dasharray="6.90 1.80 2.30 1.70 2.30 1.90"/>
<path d="M52.35 171.31 L54.10 171.31 L55.84 171.32 L57.59 171.34 L59.33 171.37 L61.08 171.41 L62.82 171.45 L64.56 171.50 L66.30 171.56 L68.04 171.63 L69.78 171.71 L71.52 171.79 L73.25 171.88 L74.99 171.98 L76.72 172.09 L78.45 172.21 L80.17 172.33 L81.90 172.46 L83.62 172.60 L85.33 172.75 L87.05 172.91 L88.76 173.07 L90.46 173.24 L92.17 173.42 L93.87 173.61 L95.56 173.81 L97.25 174.01 L98.94 174.22 L100.62 174.44 L102.30 174.67 L103.97 174.91 L105.64 175.15 L107.30 175.40 L108.96 175.66 L110.61 175.93 L112.25 176.21 L113.89 176.49 L115.53 176.79 L117.16 177.09 L118.78 177.39 L120.39 177.71 L122.00 178.04 L123.60 178.37 L125.20 178.71 L126.78 179.06 L128.36 179.42 L129.94 179.79 L131.50 180.16 L133.06 180.54 L134.61 180.94 L136.15 181.34 L137.68 181.75 L139.21 182.16 L140.72 182.59 L142.23 183.02 L143.73 183.47 L145.22 183.92 L146.70 184.38 L148.18 184.85 L149.64 185.33 L151.09 185.82 L152.53 186.32 L153.97 186.83 L155.39 187.35 L156.81 187.87 L158.21 188.41 L159.60 188.95 L160.98 189.51 L162.36 190.08 L163.72 190.65 L165.07 191.24 L166.41 191.84 L167.74 192.44 L169.05 193.06 L170.36 193.69 L171.65 194.33 L172.94 194.98 L174.21 195.64 L175.47 196.31 L176.71 196.99 L177.95 197.69 L179.17 198.39 L180.38 199.11 L181.58 199.84 L182.76 200.58 L183.93 201.33 L185.09 202.09 L186.24 202.86 L187.37 203.65 L188.49 204.44 L189.60 205.25 L190.69 206.06 L191.77 206.89 L192.84 207.73 L193.89 208.57 L194.93 209.43 L195.96 210.29 L196.97 211.17 L197.96 212.05 L198.95 212.94 L199.92 213.83 L200.87 214.73 L201.81 215.64 L202.73 216.55 L203.64 217.47 L204.54 218.39 L205.42 219.31 L206.29 220.23 L207.14 221.15 L207.97 222.08 L208.79 223.00 L209.60 223.92 L210.39 224.83 L211.16 225.74 L211.92 226.65 L212.66 227.55 L213.39 228.44 L214.10 229.32 L214.80 230.20 L215.48 231.06 L216.14 231.91 L216.79 232.75 L217.42 233.58 L218.04 234.39 L218.64 235.18 L219.22 235.96 L219.79 236.73 L220.34 237.47 L220.88 238.20 L221.39 238.91 L221.90 239.60 L222.38 240.27 L222.85 240.92 L223.30 241.55 L223.74 242.16 L224.16 242.75 L224.56 243.31 L224.94 243.85 L225.31 244.37 L225.66 244.87 L226.00 245.34 L226.31 245.79 L226.61 246.21 L226.90 246.62 L227.16 246.99 L227.41 247.35 L227.64 247.68 L227.86 247.98 L228.06 248.27 L228.24 248.52 L228.40 248.76 L228.55 248.96 L228.68 249.15 L228.79 249.31 L228.88 249.44 L228.96 249.55 L229.02 249.64 L229.07 249.70 L229.09 249.74 L229.10 249.75 L229.11 249.74 L229.13 249.70 L229.18 249.64 L229.24 249.55 L229.32 249.44 L229.41 249.31 L229.52 249.15 L229.65 248.96 L229.80 248.76 L229.96 248.52 L230.14 248.27 L230.34 247.98 L230.56 247.68 L230.79 247.35 L231.04 246.99 L231.30 246.62 L231.59 246.21 L231.89 245.79 L232.20 245.34 L232.54 244.87 L232.89 244.37 L233.26 243.85 L233.64 243.31 L234.04 242.75 L234.46 242.16 L234.90 241.55 L235.35 240.92 L235.82 240.27 L236.30 239.60 L236.81 238.91 L237.32 238.20 L237.86 237.47 L238.41 236.73 L238.98 235.96 L239.56 235.18 L240.16 234.39 L240.78 233.58 L241.41 232.75 L242.06 231.91 L242.72 231.06 L243.40 230.20 L244.10 229.32 L244.81 228.44 L245.54 227.55 L246.28 226.65 L247.04 225.74 L247.81 224.83 L248.60 223.92 L249.41 223.00 L250.23 222.08 L251.06 221.15 L251.91 220.23 L252.78 219.31 L253.66 218.39 L254.56 217.47 L255.47 216.55 L256.39 215.64 L257.33 214.73 L258.28 213.83 L259.25 212.94 L260.24 212.05 L261.23 211.17 L262.24 210.29 L263.27 209.43 L264.31 208.57 L265.36 207.73 L266.43 206.89 L267.51 206.06 L268.60 205.25 L269.71 204.44 L270.83 203.65 L271.96 202.86 L273.11 202.09 L274.27 201.33 L275.44 200.58 L276.62 199.84 L277.82 199.11 L279.03 198.39 L280.25 197.69 L281.49 196.99 L282.73 196.31 L283.99 195.64 L285.26 194.98 L286.55 194.33 L287.84 193.69 L289.15 193.06 L290.46 192.44 L291.79 191.84 L293.13 191.24 L294.48 190.65 L295.84 190.08 L297.22 189.51 L298.60 188.95 L299.99 188.41 L301.39 187.87 L302.81 187.35 L304.23 186.83 L305.67 186.32 L307.11 185.82 L308.56 185.33 L310.02 184.85 L311.50 184.38 L312.98 183.92 L314.47 183.47 L315.97 183.02 L317.48 182.59 L318.99 182.16 L320.52 181.75 L322.05 181.34 L323.59 180.94 L325.14 180.54 L326.70 180.16 L328.26 179.79 L329.84 179.42 L331.42 179.06 L333.00 178.71 L334.60 178.37 L336.20 178.04 L337.81 177.71 L339.42 177.39 L341.04 177.09 L342.67 176.79 L344.31 176.49 L345.95 176.21 L347.59 175.93 L349.24 175.66 L350.90 175.40 L352.56 175.15 L354.23 174.91 L355.90 174.67 L357.58 174.44 L359.26 174.22 L360.95 174.01 L362.64 173.81 L364.33 173.61 L366.03 173.42 L367.74 173.24 L369.44 173.07 L371.15 172.91 L372.87 172.75 L374.58 172.60 L376.30 172.46 L378.03 172.33 L379.75 172.21 L381.48 172.09 L383.21 171.98 L384.95 171.88 L386.68 171.79 L388.42 171.71 L390.16 171.63 L391.90 171.56 L393.64 171.50 L395.38 171.45 L397.12 171.41 L398.87 171.37 L400.61 171.34 L402.36 171.32 L404.10 171.31 L405.85 171.31" stroke="#ff8000" stroke-width="0.95" stroke-dasharray="1.45 2.00"/>
<path d="M52.35 171.31 L54.10 171.31 L55.84 171.32 L57.59 171.34 L59.33 171.36 L61.08 171.39 L62.82 171.43 L64.56 171.48 L66.30 171.53 L68.04 171.59 L69.78 171.65 L71.52 171.72 L73.25 171.80 L74.99 171.89 L76.72 171.98 L78.45 172.08 L80.17 172.19 L81.90 172.30 L83.62 172.42 L85.33 172.55 L87.05 172.68 L88.76 172.82 L90.46 172.97 L92.17 173.13 L93.87 173.29 L95.56 173.46 L97.25 173.64 L98.94 173.82 L100.62 174.01 L102.30 174.21 L103.97 174.42 L105.64 174.63 L107.30 174.85 L108.96 175.08 L110.61 175.31 L112.25 175.56 L113.89 175.81 L115.53 176.06 L117.16 176.33 L118.78 176.60 L120.39 176.89 L122.00 177.17 L123.60 177.47 L125.20 177.78 L126.78 178.09 L128.36 178.41 L129.94 178.74 L131.50 179.08 L133.06 179.42 L134.61 179.78 L136.15 180.14 L137.68 180.51 L139.21 180.89 L140.72 181.28 L142.23 181.68 L143.73 182.09 L145.22 182.51 L146.70 182.93 L148.18 183.37 L149.64 183.81 L151.09 184.27 L152.53 184.73 L153.97 185.21 L155.39 185.69 L156.81 186.19 L158.21 186.69 L159.60 187.21 L160.98 187.74 L162.36 188.27 L163.72 188.82 L165.07 189.38 L166.41 189.96 L167.74 190.54 L169.05 191.14 L170.36 191.74 L171.65 192.36 L172.94 193.00 L174.21 193.64 L175.47 194.30 L176.71 194.97 L177.95 195.65 L179.17 196.35 L180.38 197.05 L181.58 197.78 L182.76 198.51 L183.93 199.26 L185.09 200.02 L186.24 200.80 L187.37 201.58 L188.49 202.38 L189.60 203.20 L190.69 204.02 L191.77 204.86 L192.84 205.71 L193.89 206.57 L194.93 207.44 L195.96 208.33 L196.97 209.22 L197.96 210.13 L198.95 211.04 L199.92 211.96 L200.87 212.89 L201.81 213.83 L202.73 214.78 L203.64 215.73 L204.54 216.68 L205.42 217.64 L206.29 218.60 L207.14 219.56 L207.97 220.53 L208.79 221.49 L209.60 222.45 L210.39 223.41 L211.16 224.37 L211.92 225.32 L212.66 226.26 L213.39 227.20 L214.10 228.13 L214.80 229.05 L215.48 229.96 L216.14 230.86 L216.79 231.74 L217.42 232.61 L218.04 233.47 L218.64 234.31 L219.22 235.14 L219.79 235.95 L220.34 236.74 L220.88 237.51 L221.39 238.26 L221.90 238.99 L222.38 239.70 L222.85 240.39 L223.30 241.05 L223.74 241.70 L224.16 242.32 L224.56 242.92 L224.94 243.49 L225.31 244.04 L225.66 244.57 L226.00 245.07 L226.31 245.55 L226.61 246.00 L226.90 246.42 L227.16 246.83 L227.41 247.20 L227.64 247.55 L227.86 247.88 L228.06 248.18 L228.24 248.45 L228.40 248.70 L228.55 248.92 L228.68 249.11 L228.79 249.28 L228.88 249.42 L228.96 249.54 L229.02 249.63 L229.07 249.70 L229.09 249.74 L229.10 249.75 L229.11 249.74 L229.13 249.70 L229.18 249.63 L229.24 249.54 L229.32 249.42 L229.41 249.28 L229.52 249.11 L229.65 248.92 L229.80 248.70 L229.96 248.45 L230.14 248.18 L230.34 247.88 L230.56 247.55 L230.79 247.20 L231.04 246.83 L231.30 246.42 L231.59 246.00 L231.89 245.55 L232.20 245.07 L232.54 244.57 L232.89 244.04 L233.26 243.49 L233.64 242.92 L234.04 242.32 L234.46 241.70 L234.90 241.05 L235.35 240.39 L235.82 239.70 L236.30 238.99 L236.81 238.26 L237.32 237.51 L237.86 236.74 L238.41 235.95 L238.98 235.14 L239.56 234.31 L240.16 233.47 L240.78 232.61 L241.41 231.74 L242.06 230.86 L242.72 229.96 L243.40 229.05 L244.10 228.13 L244.81 227.20 L245.54 226.26 L246.28 225.32 L247.04 224.37 L247.81 223.41 L248.60 222.45 L249.41 221.49 L250.23 220.53 L251.06 219.56 L251.91 218.60 L252.78 217.64 L253.66 216.68 L254.56 215.73 L255.47 214.78 L256.39 213.83 L257.33 212.89 L258.28 211.96 L259.25 211.04 L260.24 210.13 L261.23 209.22 L262.24 208.33 L263.27 207.44 L264.31 206.57 L265.36 205.71 L266.43 204.86 L267.51 204.02 L268.60 203.20 L269.71 202.38 L270.83 201.58 L271.96 200.80 L273.11 200.02 L274.27 199.26 L275.44 198.51 L276.62 197.78 L277.82 197.05 L279.03 196.35 L280.25 195.65 L281.49 194.97 L282.73 194.30 L283.99 193.64 L285.26 193.00 L286.55 192.36 L287.84 191.74 L289.15 191.14 L290.46 190.54 L291.79 189.96 L293.13 189.38 L294.48 188.82 L295.84 188.27 L297.22 187.74 L298.60 187.21 L299.99 186.69 L301.39 186.19 L302.81 185.69 L304.23 185.21 L305.67 184.73 L307.11 184.27 L308.56 183.81 L310.02 183.37 L311.50 182.93 L312.98 182.51 L314.47 182.09 L315.97 181.68 L317.48 181.28 L318.99 180.89 L320.52 180.51 L322.05 180.14 L323.59 179.78 L325.14 179.42 L326.70 179.08 L328.26 178.74 L329.84 178.41 L331.42 178.09 L333.00 177.78 L334.60 177.47 L336.20 177.17 L337.81 176.89 L339.42 176.60 L341.04 176.33 L342.67 176.06 L344.31 175.81 L345.95 175.56 L347.59 175.31 L349.24 175.08 L350.90 174.85 L352.56 174.63 L354.23 174.42 L355.90 174.21 L357.58 174.01 L359.26 173.82 L360.95 173.64 L362.64 173.46 L364.33 173.29 L366.03 173.13 L367.74 172.97 L369.44 172.82 L371.15 172.68 L372.87 172.55 L374.58 172.42 L376.30 172.30 L378.03 172.19 L379.75 172.08 L381.48 171.98 L383.21 171.89 L384.95 171.80 L386.68 171.72 L388.42 171.65 L390.16 171.59 L391.90 171.53 L393.64 171.48 L395.38 171.43 L397.12 171.39 L398.87 171.36 L400.61 171.34 L402.36 171.32 L404.10 171.31 L405.85 171.31" stroke="#ff8000" stroke-width="1.65" stroke-dasharray="2.90 4.00"/>
<path d="M52.35 201.11 L54.10 201.12 L55.84 201.12 L57.59 201.14 L59.33 201.15 L61.08 201.18 L62.82 201.20 L64.56 201.24 L66.30 201.27 L68.04 201.32 L69.78 201.36 L71.52 201.42 L73.25 201.47 L74.99 201.54 L76.72 201.60 L78.45 201.68 L80.17 201.75 L81.90 201.84 L83.62 201.92 L85.33 202.02 L87.05 202.11 L88.76 202.22 L90.46 202.32 L92.17 202.43 L93.87 202.55 L95.56 202.67 L97.25 202.80 L98.94 202.93 L100.62 203.07 L102.30 203.21 L103.97 203.36 L105.64 203.51 L107.30 203.67 L108.96 203.83 L110.61 204.00 L112.25 204.17 L113.89 204.35 L115.53 204.53 L117.16 204.72 L118.78 204.91 L120.39 205.11 L122.00 205.32 L123.60 205.52 L125.20 205.74 L126.78 205.96 L128.36 206.18 L129.94 206.41 L131.50 206.64 L133.06 206.88 L134.61 207.13 L136.15 207.38 L137.68 207.64 L139.21 207.90 L140.72 208.16 L142.23 208.44 L143.73 208.71 L145.22 209.00 L146.70 209.29 L148.18 209.58 L149.64 209.88 L151.09 210.19 L152.53 210.50 L153.97 210.82 L155.39 211.14 L156.81 211.47 L158.21 211.81 L159.60 212.15 L160.98 212.50 L162.36 212.85 L163.72 213.21 L165.07 213.58 L166.41 213.96 L167.74 214.34 L169.05 214.72 L170.36 215.12 L171.65 215.52 L172.94 215.93 L174.21 216.34 L175.47 216.76 L176.71 217.19 L177.95 217.62 L179.17 218.07 L180.38 218.52 L181.58 218.97 L182.76 219.43 L183.93 219.90 L185.09 220.38 L186.24 220.86 L187.37 221.35 L188.49 221.85 L189.60 222.35 L190.69 222.86 L191.77 223.38 L192.84 223.90 L193.89 224.43 L194.93 224.96 L195.96 225.50 L196.97 226.04 L197.96 226.59 L198.95 227.14 L199.92 227.70 L200.87 228.26 L201.81 228.82 L202.73 229.39 L203.64 229.95 L204.54 230.52 L205.42 231.09 L206.29 231.66 L207.14 232.23 L207.97 232.80 L208.79 233.37 L209.60 233.94 L210.39 234.50 L211.16 235.06 L211.92 235.62 L212.66 236.17 L213.39 236.72 L214.10 237.26 L214.80 237.80 L215.48 238.33 L216.14 238.85 L216.79 239.37 L217.42 239.87 L218.04 240.37 L218.64 240.86 L219.22 241.33 L219.79 241.80 L220.34 242.26 L220.88 242.70 L221.39 243.14 L221.90 243.56 L222.38 243.97 L222.85 244.36 L223.30 244.75 L223.74 245.12 L224.16 245.48 L224.56 245.82 L224.94 246.15 L225.31 246.47 L225.66 246.77 L226.00 247.06 L226.31 247.33 L226.61 247.59 L226.90 247.84 L227.16 248.07 L227.41 248.29 L227.64 248.49 L227.86 248.67 L228.06 248.84 L228.24 249.00 L228.40 249.14 L228.55 249.27 L228.68 249.38 L228.79 249.48 L228.88 249.56 L228.96 249.63 L229.02 249.68 L229.07 249.72 L229.09 249.74 L229.10 249.75 L229.11 249.74 L229.13 249.72 L229.18 249.68 L229.24 249.63 L229.32 249.56 L229.41 249.48 L229.52 249.38 L229.65 249.27 L229.80 249.14 L229.96 249.00 L230.14 248.84 L230.34 248.67 L230.56 248.49 L230.79 248.29 L231.04 248.07 L231.30 247.84 L231.59 247.59 L231.89 247.33 L232.20 247.06 L232.54 246.77 L232.89 246.47 L233.26 246.15 L233.64 245.82 L234.04 245.48 L234.46 245.12 L234.90 244.75 L235.35 244.36 L235.82 243.97 L236.30 243.56 L236.81 243.14 L237.32 242.70 L237.86 242.26 L238.41 241.80 L238.98 241.33 L239.56 240.86 L240.16 240.37 L240.78 239.87 L241.41 239.37 L242.06 238.85 L242.72 238.33 L243.40 237.80 L244.10 237.26 L244.81 236.72 L245.54 236.17 L246.28 235.62 L247.04 235.06 L247.81 234.50 L248.60 233.94 L249.41 233.37 L250.23 232.80 L251.06 232.23 L251.91 231.66 L252.78 231.09 L253.66 230.52 L254.56 229.95 L255.47 229.39 L256.39 228.82 L257.33 228.26 L258.28 227.70 L259.25 227.14 L260.24 226.59 L261.23 226.04 L262.24 225.50 L263.27 224.96 L264.31 224.43 L265.36 223.90 L266.43 223.38 L267.51 222.86 L268.60 222.35 L269.71 221.85 L270.83 221.35 L271.96 220.86 L273.11 220.38 L274.27 219.90 L275.44 219.43 L276.62 218.97 L277.82 218.52 L279.03 218.07 L280.25 217.62 L281.49 217.19 L282.73 216.76 L283.99 216.34 L285.26 215.93 L286.55 215.52 L287.84 215.12 L289.15 214.72 L290.46 214.34 L291.79 213.96 L293.13 213.58 L294.48 213.21 L295.84 212.85 L297.22 212.50 L298.60 212.15 L299.99 211.81 L301.39 211.47 L302.81 211.14 L304.23 210.82 L305.67 210.50 L307.11 210.19 L308.56 209.88 L310.02 209.58 L311.50 209.29 L312.98 209.00 L314.47 208.71 L315.97 208.44 L317.48 208.16 L318.99 207.90 L320.52 207.64 L322.05 207.38 L323.59 207.13 L325.14 206.88 L326.70 206.64 L328.26 206.41 L329.84 206.18 L331.42 205.96 L333.00 205.74 L334.60 205.52 L336.20 205.32 L337.81 205.11 L339.42 204.91 L341.04 204.72 L342.67 204.53 L344.31 204.35 L345.95 204.17 L347.59 204.00 L349.24 203.83 L350.90 203.67 L352.56 203.51 L354.23 203.36 L355.90 203.21 L357.58 203.07 L359.26 202.93 L360.95 202.80 L362.64 202.67 L364.33 202.55 L366.03 202.43 L367.74 202.32 L369.44 202.22 L371.15 202.11 L372.87 202.02 L374.58 201.92 L376.30 201.84 L378.03 201.75 L379.75 201.68 L381.48 201.60 L383.21 201.54 L384.95 201.47 L386.68 201.42 L388.42 201.36 L390.16 201.32 L391.90 201.27 L393.64 201.24 L395.38 201.20 L397.12 201.18 L398.87 201.15 L400.61 201.14 L402.36 201.12 L404.10 201.12 L405.85 201.11" stroke="#ff0000" stroke-width="0.95" stroke-dasharray="1.95 0.65"/>
<path d="M52.35 201.11 L54.10 201.12 L55.84 201.12 L57.59 201.13 L59.33 201.15 L61.08 201.17 L62.82 201.19 L64.56 201.22 L66.30 201.25 L68.04 201.29 L69.78 201.33 L71.52 201.37 L73.25 201.42 L74.99 201.48 L76.72 201.53 L78.45 201.60 L80.17 201.66 L81.90 201.73 L83.62 201.81 L85.33 201.89 L87.05 201.97 L88.76 202.06 L90.46 202.15 L92.17 202.25 L93.87 202.35 L95.56 202.46 L97.25 202.57 L98.94 202.68 L100.62 202.80 L102.30 202.93 L103.97 203.06 L105.64 203.19 L107.30 203.33 L108.96 203.47 L110.61 203.62 L112.25 203.77 L113.89 203.93 L115.53 204.09 L117.16 204.26 L118.78 204.43 L120.39 204.60 L122.00 204.78 L123.60 204.97 L125.20 205.16 L126.78 205.36 L128.36 205.56 L129.94 205.77 L131.50 205.98 L133.06 206.19 L134.61 206.42 L136.15 206.64 L137.68 206.88 L139.21 207.12 L140.72 207.36 L142.23 207.61 L143.73 207.87 L145.22 208.13 L146.70 208.39 L148.18 208.67 L149.64 208.95 L151.09 209.23 L152.53 209.52 L153.97 209.82 L155.39 210.13 L156.81 210.44 L158.21 210.75 L159.60 211.08 L160.98 211.41 L162.36 211.75 L163.72 212.09 L165.07 212.45 L166.41 212.80 L167.74 213.17 L169.05 213.55 L170.36 213.93 L171.65 214.32 L172.94 214.71 L174.21 215.12 L175.47 215.53 L176.71 215.95 L177.95 216.38 L179.17 216.82 L180.38 217.26 L181.58 217.71 L182.76 218.17 L183.93 218.64 L185.09 219.12 L186.24 219.60 L187.37 220.10 L188.49 220.60 L189.60 221.11 L190.69 221.62 L191.77 222.15 L192.84 222.68 L193.89 223.21 L194.93 223.76 L195.96 224.31 L196.97 224.87 L197.96 225.43 L198.95 226.00 L199.92 226.57 L200.87 227.15 L201.81 227.73 L202.73 228.31 L203.64 228.90 L204.54 229.49 L205.42 230.09 L206.29 230.68 L207.14 231.28 L207.97 231.87 L208.79 232.46 L209.60 233.06 L210.39 233.65 L211.16 234.24 L211.92 234.82 L212.66 235.40 L213.39 235.98 L214.10 236.55 L214.80 237.11 L215.48 237.67 L216.14 238.22 L216.79 238.76 L217.42 239.29 L218.04 239.82 L218.64 240.33 L219.22 240.84 L219.79 241.33 L220.34 241.81 L220.88 242.28 L221.39 242.74 L221.90 243.19 L222.38 243.62 L222.85 244.04 L223.30 244.45 L223.74 244.84 L224.16 245.22 L224.56 245.59 L224.94 245.94 L225.31 246.27 L225.66 246.59 L226.00 246.90 L226.31 247.19 L226.61 247.46 L226.90 247.72 L227.16 247.97 L227.41 248.20 L227.64 248.41 L227.86 248.61 L228.06 248.79 L228.24 248.96 L228.40 249.11 L228.55 249.24 L228.68 249.36 L228.79 249.46 L228.88 249.55 L228.96 249.62 L229.02 249.68 L229.07 249.72 L229.09 249.74 L229.10 249.75 L229.11 249.74 L229.13 249.72 L229.18 249.68 L229.24 249.62 L229.32 249.55 L229.41 249.46 L229.52 249.36 L229.65 249.24 L229.80 249.11 L229.96 248.96 L230.14 248.79 L230.34 248.61 L230.56 248.41 L230.79 248.20 L231.04 247.97 L231.30 247.72 L231.59 247.46 L231.89 247.19 L232.20 246.90 L232.54 246.59 L232.89 246.27 L233.26 245.94 L233.64 245.59 L234.04 245.22 L234.46 244.84 L234.90 244.45 L235.35 244.04 L235.82 243.62 L236.30 243.19 L236.81 242.74 L237.32 242.28 L237.86 241.81 L238.41 241.33 L238.98 240.84 L239.56 240.33 L240.16 239.82 L240.78 239.29 L241.41 238.76 L242.06 238.22 L242.72 237.67 L243.40 237.11 L244.10 236.55 L244.81 235.98 L245.54 235.40 L246.28 234.82 L247.04 234.24 L247.81 233.65 L248.60 233.06 L249.41 232.46 L250.23 231.87 L251.06 231.28 L251.91 230.68 L252.78 230.09 L253.66 229.49 L254.56 228.90 L255.47 228.31 L256.39 227.73 L257.33 227.15 L258.28 226.57 L259.25 226.00 L260.24 225.43 L261.23 224.87 L262.24 224.31 L263.27 223.76 L264.31 223.21 L265.36 222.68 L266.43 222.15 L267.51 221.62 L268.60 221.11 L269.71 220.60 L270.83 220.10 L271.96 219.60 L273.11 219.12 L274.27 218.64 L275.44 218.17 L276.62 217.71 L277.82 217.26 L279.03 216.82 L280.25 216.38 L281.49 215.95 L282.73 215.53 L283.99 215.12 L285.26 214.71 L286.55 214.32 L287.84 213.93 L289.15 213.55 L290.46 213.17 L291.79 212.80 L293.13 212.45 L294.48 212.09 L295.84 211.75 L297.22 211.41 L298.60 211.08 L299.99 210.75 L301.39 210.44 L302.81 210.13 L304.23 209.82 L305.67 209.52 L307.11 209.23 L308.56 208.95 L310.02 208.67 L311.50 208.39 L312.98 208.13 L314.47 207.87 L315.97 207.61 L317.48 207.36 L318.99 207.12 L320.52 206.88 L322.05 206.64 L323.59 206.42 L325.14 206.19 L326.70 205.98 L328.26 205.77 L329.84 205.56 L331.42 205.36 L333.00 205.16 L334.60 204.97 L336.20 204.78 L337.81 204.60 L339.42 204.43 L341.04 204.26 L342.67 204.09 L344.31 203.93 L345.95 203.77 L347.59 203.62 L349.24 203.47 L350.90 203.33 L352.56 203.19 L354.23 203.06 L355.90 202.93 L357.58 202.80 L359.26 202.68 L360.95 202.57 L362.64 202.46 L364.33 202.35 L366.03 202.25 L367.74 202.15 L369.44 202.06 L371.15 201.97 L372.87 201.89 L374.58 201.81 L376.30 201.73 L378.03 201.66 L379.75 201.60 L381.48 201.53 L383.21 201.48 L384.95 201.42 L386.68 201.37 L388.42 201.33 L390.16 201.29 L391.90 201.25 L393.64 201.22 L395.38 201.19 L397.12 201.17 L398.87 201.15 L400.61 201.13 L402.36 201.12 L404.10 201.12 L405.85 201.11" stroke="#ff0000" stroke-width="1.65" stroke-dasharray="3.90 1.30"/>
</g>
<text transform="translate(48.30 254.20) scale(0.905 1)" font-size="16.4" text-anchor="end">0.0</text>
<text transform="translate(48.30 216.08) scale(0.905 1)" font-size="16.4" text-anchor="end">0.5</text>
<text transform="translate(48.30 177.97) scale(0.905 1)" font-size="16.4" text-anchor="end">1.0</text>
<text transform="translate(48.30 139.85) scale(0.905 1)" font-size="16.4" text-anchor="end">1.5</text>
<text transform="translate(48.30 101.74) scale(0.905 1)" font-size="16.4" text-anchor="end">2.0</text>
<text transform="translate(48.30 63.62) scale(0.905 1)" font-size="16.4" text-anchor="end">2.5</text>
<text transform="translate(48.30 25.51) scale(0.905 1)" font-size="16.4" text-anchor="end">3.0</text>
<text transform="translate(52.60 265.70) scale(0.905 1)" font-size="16.4" text-anchor="middle">0.0</text>
<text transform="translate(229.20 265.70) scale(0.905 1)" font-size="16.4" text-anchor="middle">0.5</text>
<text transform="translate(406.30 265.70) scale(0.905 1)" font-size="16.4" text-anchor="middle">1.0</text>
<line x1="199.0" y1="18.20" x2="232.7" y2="18.20" stroke="#8000ff" stroke-width="1.6"/>
<text transform="translate(235.70 23.20) scale(0.905 1)" font-size="16.4" text-anchor="start">0.10</text>
<line x1="199.0" y1="35.90" x2="232.7" y2="35.90" stroke="#800080" stroke-width="1.6" stroke-dasharray="6.00 5.40"/>
<text transform="translate(235.70 40.90) scale(0.905 1)" font-size="16.4" text-anchor="start">0.50</text>
<line x1="199.0" y1="53.60" x2="232.7" y2="53.60" stroke="#00f0ff" stroke-width="1.6" stroke-dasharray="7.50 2.50 1.90 2.10"/>
<text transform="translate(235.70 58.60) scale(0.905 1)" font-size="16.4" text-anchor="start">0.70</text>
<line x1="199.0" y1="71.30" x2="232.7" y2="71.30" stroke="#80ff00" stroke-width="1.6" stroke-dasharray="6.90 1.80 2.30 1.70 2.30 1.90"/>
<text transform="translate(235.70 76.30) scale(0.905 1)" font-size="16.4" text-anchor="start">0.90</text>
<line x1="199.0" y1="89.00" x2="232.7" y2="89.00" stroke="#ff8000" stroke-width="1.6" stroke-dasharray="2.30 4.60"/>
<text transform="translate(235.70 94.00) scale(0.905 1)" font-size="16.4" text-anchor="start">0.95</text>
<line x1="199.0" y1="106.70" x2="232.7" y2="106.70" stroke="#ff0000" stroke-width="1.6" stroke-dasharray="3.60 1.50"/>
<text transform="translate(235.70 111.70) scale(0.905 1)" font-size="16.4" text-anchor="start">0.98</text>
<text transform="translate(145.30 24.00) scale(1.05 1)" font-size="19" text-anchor="start" class="it">T</text>
<text transform="translate(159.50 24.00) scale(1.0 1)" font-size="19" text-anchor="start">[</text>
<text transform="translate(166.40 24.00) scale(1.05 1)" font-size="19" text-anchor="start" class="it">T</text>
<text transform="translate(174.40 29.00) scale(1.05 1)" font-size="11.2" text-anchor="start" class="it sm">c2</text>
<text transform="translate(183.80 24.00) scale(1.0 1)" font-size="19" text-anchor="start">]</text>
<text transform="translate(214.00 281.30) scale(0.88 1)" font-size="20" text-anchor="start">Φ/Φ</text>
<text transform="translate(243.40 286.60) scale(0.9 1)" font-size="13.2" text-anchor="start" class="sm">0</text>
<g transform="translate(18.3 172.2) rotate(-90)" style="stroke-width:0">
<text transform="translate(0.9 0) skewX(-4) scale(1.0 1)" font-size="19.5" class="it">I</text>
<text transform="translate(7.20 6.30) scale(1.05 1)" font-size="10.5" class="it sm">eq</text>
<text transform="translate(21.70 0.00) scale(1.0 1)" font-size="19.5">[</text>
<path d="M26.70 0.00 L40.00 0.00 L33.35 -13.10 Z M27.77 -0.90 L32.71 -10.61 L37.64 -0.90 Z" fill="#000" fill-rule="evenodd" stroke="none"/>
<text transform="translate(36.30 -9.50) scale(1.1 1)" font-size="12" class="sm">0</text>
<text transform="translate(37.00 6.40) scale(1.15 1)" font-size="11.5" class="it sm">2</text>
<text transform="translate(42.40 0.00) scale(0.87 1)" font-size="19.5">/</text>
<text transform="translate(46.50 0.00) scale(0.92 1)" font-size="19.5" class="it">e</text>
<text transform="translate(54.50 0.00) scale(1.115 1)" font-size="19.5" class="it">R</text>
<text transform="translate(65.50 6.20) scale(1.0 1)" font-size="9.5" class="it sm">t</text>
<text transform="translate(68.10 0.00) scale(1.0 1)" font-size="19.5">]</text>
</g>
</svg></body></html>
